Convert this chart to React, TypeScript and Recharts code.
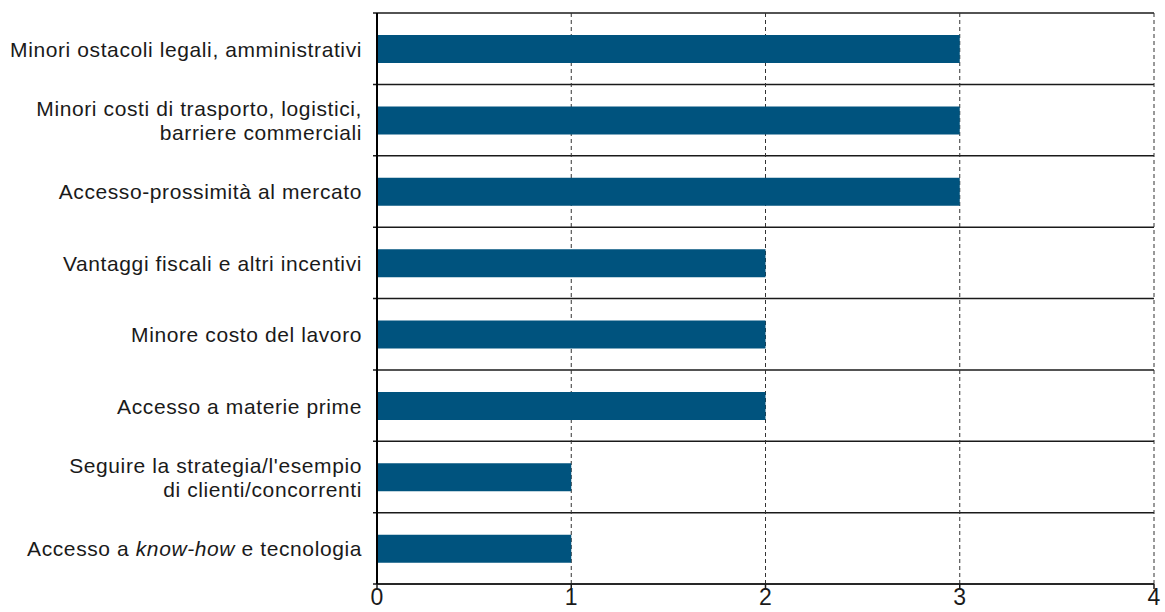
import { BarChart, Bar, XAxis, YAxis, CartesianGrid } from "recharts";

// categories top to bottom; *...* marks italic text, \n a line break
const categories = [
  "Minori ostacoli legali, amministrativi",
  "Minori costi di trasporto, logistici,\nbarriere commerciali",
  "Accesso-prossimità al mercato",
  "Vantaggi fiscali e altri incentivi",
  "Minore costo del lavoro",
  "Accesso a materie prime",
  "Seguire la strategia/l'esempio\ndi clienti/concorrenti",
  "Accesso a *know-how* e tecnologia",
];
const values = [3, 3, 3, 2, 2, 2, 1, 1];
const xTicks = [0, 1, 2, 3, 4];

const data = categories.map((name, i) => ({ name, value: values[i] }));

const FONT = "'Liberation Sans', Arial, sans-serif";
const BAR_COLOR = "#00537e";

const renderParts = (line: string) =>
  line.split("*").map((part, i) => (
    <tspan key={i} fontStyle={i % 2 === 1 ? "italic" : "normal"}>
      {part}
    </tspan>
  ));

const CategoryTick = ({ x, y, payload }: any) => {
  const lines = String(payload.value).split("\n");
  const lh = 23.5;
  const startY = y - ((lines.length - 1) * lh) / 2;
  return (
    <text
      x={x - 7}
      y={startY}
      textAnchor="end"
      dominantBaseline="central"
      fill="#1a1a1a"
      fontSize={21}
      letterSpacing={0.6}
      fontFamily={FONT}
    >
      {lines.map((line, i) => (
        <tspan key={i} x={x - 7} y={startY + i * lh}>
          {renderParts(line)}
        </tspan>
      ))}
    </text>
  );
};

// horizontal separators at category boundaries (not centers)
const boundaryLines = ({ offset }: any) =>
  Array.from(
    { length: categories.length + 1 },
    (_, i) => offset.top + (i * offset.height) / categories.length
  );

const SeparatorLine = (props: any) => (
  <line
    key={props.key ?? `${props.y1}`}
    x1={props.x1 - 4}
    x2={props.x2}
    y1={props.y1}
    y2={props.y2}
    stroke="#1a1a1a"
    strokeWidth={1.5}
  />
);

export default function App() {
  // pinned to the page corner so the body margin doesn't add a scrollbar
  return (
    <div
      style={{
        position: "absolute",
        top: 0,
        left: 0,
        width: 1165,
        height: 612,
        background: "#fff",
      }}
    >
      <BarChart
        width={1165}
        height={612}
        data={data}
        layout="vertical"
        margin={{ top: 13, right: 11, bottom: 0, left: 8 }}
        barSize={28}
      >
        <CartesianGrid
          vertical={false}
          horizontal={SeparatorLine}
          horizontalCoordinatesGenerator={boundaryLines}
        />
        <CartesianGrid
          horizontal={false}
          stroke="#333"
          strokeDasharray="4 3"
          verticalValues={[1, 2, 3, 4]}
        />
        <XAxis
          type="number"
          domain={[0, 4]}
          ticks={xTicks}
          height={28}
          tickSize={5}
          tickMargin={0}
          axisLine={{ stroke: "#1a1a1a", strokeWidth: 1.5 }}
          tickLine={{ stroke: "#1a1a1a", strokeWidth: 1.5 }}
          tick={{ fill: "#1a1a1a", fontSize: 23, fontFamily: FONT }}
          interval={0}
        />
        <YAxis
          type="category"
          dataKey="name"
          width={369}
          tickLine={false}
          axisLine={{ stroke: "#000", strokeWidth: 2 }}
          tick={<CategoryTick />}
          interval={0}
        />
        <Bar dataKey="value" fill={BAR_COLOR} isAnimationActive={false} />
      </BarChart>
    </div>
  );
}
